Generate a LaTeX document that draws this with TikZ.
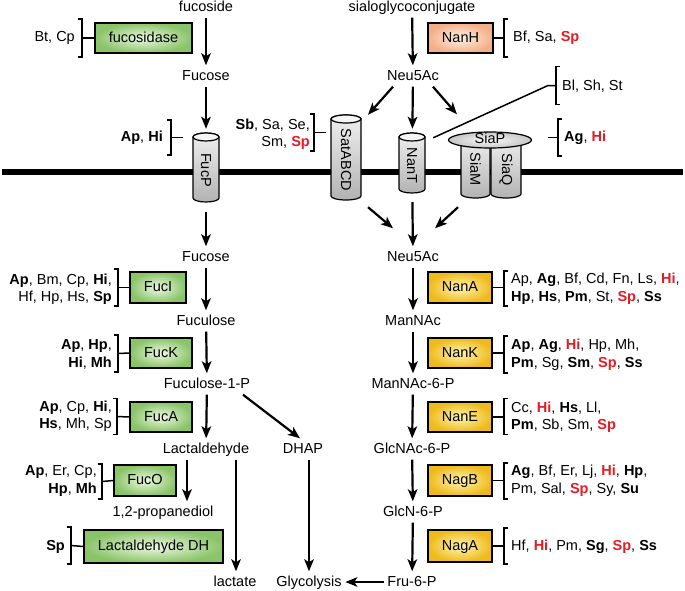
\documentclass[tikz,border=0pt]{standalone}
\usepackage{fontspec}
\setmainfont{Liberation Sans}
\usetikzlibrary{arrows.meta,shapes.geometric}
\definecolor{hired}{RGB}{228,28,36}
\definecolor{gin}{RGB}{238,248,228}
\definecolor{gout}{RGB}{138,196,104}
\definecolor{yin}{RGB}{255,246,180}
\definecolor{yout}{RGB}{238,186,28}
\definecolor{pin}{RGB}{255,242,232}
\definecolor{pout}{RGB}{243,176,136}
\newcommand\rd[1]{\textcolor{hired}{\textbf{#1}}}
\newcommand\lbrk[2]{\draw[brk] ([shift={(-4,-#2)}]#1) -- ++(4,0) -- ++(0,{2*#2}) -- ++(-4,0);}
\newcommand\rbrk[2]{\draw[brk] ([shift={(4,-#2)}]#1) -- ++(-4,0) -- ++(0,{2*#2}) -- ++(4,0);}
\newcommand\drawcyl[6]{%
  \node[inner sep=0pt, minimum width={2*#5}, minimum height={#4-#3}] (#1) at (#2,{(#3+#4)/2}) {};
  \shadedraw[cylbody] ({#2-#5},{#3+4}) -- ({#2-#5},{#4-4})
     arc[start angle=180,end angle=360,x radius=#5pt,y radius=4pt]
     -- ({#2+#5},{#3+4})
     arc[start angle=0,end angle=180,x radius=#5pt,y radius=4pt] -- cycle;
  \draw[cyltop] (#2,{#3+4}) ellipse[x radius=#5pt,y radius=4pt];
  \node[rotate=-90,inner sep=0pt] (#1txt) at (#2,{(#3+#4)/2+2.5}) {#6};
}
\begin{document}
\begin{tikzpicture}[x=1pt,y=-1pt,
  font=\fontsize{14.5}{17.5}\selectfont,
  met/.style={inner sep=3.5pt, text height=11pt, text depth=3pt},
  enz/.style={draw, line width=1.3pt, inner sep=0pt, text height=11pt, text depth=3pt, minimum height=30pt},
  gbox/.style={enz, inner color=gin, outer color=gout},
  ybox/.style={enz, inner color=yin, outer color=yout, minimum width=64pt},
  pbox/.style={enz, inner color=pin, outer color=pout},
  lab/.style={inner sep=0pt, align=right, anchor=east},
  rlab/.style={inner sep=0pt, align=left, anchor=west},
  brk/.style={line width=1.5pt},
  conn/.style={line width=1.5pt},
  arr/.style={line width=2.2pt, -{Stealth[length=12pt,width=9.5pt,inset=3pt]}},
  cylbody/.style={line width=1.2pt, top color=gray!12, bottom color=gray!60},
  cyltop/.style={line width=1.2pt, fill=gray!8}
]
\useasboundingbox (0,0) rectangle (685,590);

% membrane
\draw[line width=6pt] (2,172) -- (683,172);

% transporters
\drawcyl{fucp}{206}{133}{202}{13}{FucP}
\drawcyl{sat}{346}{115}{200}{15}{SatABCD}
\drawcyl{nant}{412}{133}{193}{13}{NanT}
\drawcyl{siam}{475.5}{136}{198}{14.5}{SiaM}
\drawcyl{siaq}{506}{136}{198}{15}{SiaQ}
\node[draw, ellipse, line width=1.2pt, inner sep=0pt, minimum width=83pt, minimum height=16pt,
      inner color=gray!4, outer color=gray!45, text height=8pt, text depth=1pt] (siap) at (490,140) {SiaP};

% metabolites left
\node[met] (fucoside) at (206,7) {fucoside};
\node[met] (fucose) at (206,76) {Fucose};
\node[met] (fucose2) at (206,257) {Fucose};
\node[met] (fuculose) at (206,321) {Fuculose};
\node[met] (f1p) at (207,384) {Fuculose-1-P};
\node[met] (lact) at (206,449) {Lactaldehyde};
\node[met] (prop) at (163,512) {1,2-propanediol};
\node[met] (lactate) at (235,582) {lactate};
\node[met] (dhap) at (303,449) {DHAP};
\node[met] (glyc) at (309,582) {Glycolysis};

% metabolites right
\node[met] (sialo) at (412,7) {sialoglycoconjugate};
\node[met] (neu) at (413,76) {Neu5Ac};
\node[met] (neu2) at (413,257) {Neu5Ac};
\node[met] (mannac) at (413,321) {ManNAc};
\node[met] (mannac6p) at (413,384) {ManNAc-6-P};
\node[met] (glcnac6p) at (412,449) {GlcNAc-6-P};
\node[met] (glcn6p) at (413,512) {GlcN-6-P};
\node[met] (fru) at (412,582) {Fru-6-P};

% enzymes
\node[gbox, minimum width=97pt] (fucosidase) at (143.5,38) {fucosidase};
\node[pbox, minimum width=65pt] (nanh) at (460.5,38) {NanH};
\node[gbox, minimum width=56pt, minimum height=31pt] (fuci) at (158,287.5) {FucI};
\node[gbox, minimum width=62pt] (fuck) at (161,353) {FucK};
\node[gbox, minimum width=62pt] (fuca) at (161,417) {FucA};
\node[gbox, minimum width=62pt, minimum height=31pt] (fuco) at (145,480.5) {FucO};
\node[gbox, minimum width=139pt, minimum height=33pt] (ldh) at (153.5,546.5) {Lactaldehyde DH};
\node[ybox, minimum height=31pt] (nana) at (460,287.5) {NanA};
\node[ybox] (nank) at (460,353) {NanK};
\node[ybox] (nane) at (460,417) {NanE};
\node[ybox, minimum height=31pt] (nagb) at (460,480.5) {NagB};
\node[ybox, minimum height=32pt] (naga) at (460,546) {NagA};

% arrows left
\draw[arr] (fucoside) -- (fucose);
\draw[arr, shorten >=4pt] (fucose) -- (fucp);
\draw[arr, shorten <=10pt] (fucp) -- (fucose2);
\draw[arr] (fucose2) -- (fuculose);
\draw[arr] (fuculose) -- (f1p);
\draw[arr] (f1p) -- (lact);
\draw[arr] ([xshift=36pt]f1p.south) -- ([xshift=-3pt]dhap.north);
\draw[arr] ([xshift=-19pt]lact.south) -- ([xshift=-19pt]lact.south |- prop.north);
\draw[arr] ([xshift=30pt]lact.south) -- ([xshift=30pt]lact.south |- lactate.north);
\draw[arr] (dhap.south -| glyc.north) -- (glyc.north);
\draw[arr] (fru) -- (glyc);

% arrows right
\draw[arr] (sialo) -- (neu);
\draw[arr] ([xshift=-20pt]neu.south) -- ([xshift=22pt]sat.north);
\draw[arr, shorten >=4pt] (neu) -- (nant);
\draw[arr] ([xshift=20pt]neu.south) -- ([xshift=-33pt,yshift=17pt]siap.north);
\draw[arr] ([xshift=22pt,yshift=-7pt]sat.south) -- ([xshift=-20pt,yshift=18pt]neu2.north);
\draw[arr, shorten <=9pt] (nant) -- (neu2);
\draw[arr] ([xshift=-17.5pt,yshift=-9pt]siam.south) -- ([xshift=22pt,yshift=18pt]neu2.north);
\draw[arr] (neu2) -- (mannac);
\draw[arr] (mannac) -- (mannac6p);
\draw[arr] (mannac6p) -- (glcnac6p);
\draw[arr] (glcnac6p) -- (glcn6p);
\draw[arr] (glcn6p) -- (fru);

% brackets and organism labels (left side)
\coordinate (bfuc) at (82,38);
\lbrk{bfuc}{19}
\draw[conn] (bfuc) -- (fucosidase.west);
\node[lab] (lfuc) at (75,38) {Bt, Cp};

\coordinate (bfucp) at (171,137.5);
\lbrk{bfucp}{17.5}
\draw[conn, shorten >=10pt] (bfucp) -- (fucp.west |- bfucp);
\node[lab] (lfucp) at (163,138) {\textbf{Ap}, \textbf{Hi}};

\coordinate (bsat) at (314,132.5);
\lbrk{bsat}{18.5}
\draw[conn, shorten >=5pt] (bsat) -- (sat.west |- bsat);
\node[lab] (lsat) at (310,134) {\textbf{Sb}, Sa, Se,\\Sm, \rd{Sp}};

\coordinate (bfuci) at (118,287.5);
\lbrk{bfuci}{18.5}
\draw[conn] (bfuci) -- (fuci.west);
\node[lab] (lfuci) at (112,289) {\textbf{Ap}, Bm, Cp, \textbf{Hi},\\Hf, Hp, Hs, \textbf{Sp}};

\coordinate (bfuck) at (118,353.5);
\lbrk{bfuck}{18.5}
\draw[conn] (bfuck) -- (fuck.west);
\node[lab] (lfuck) at (112,354.5) {\textbf{Ap}, \textbf{Hp},\\\textbf{Hi}, \textbf{Mh}};

\coordinate (bfuca) at (117,416.5);
\lbrk{bfuca}{18}
\draw[conn] (bfuca) -- (fuca.west);
\node[lab] (lfuca) at (112,416) {\textbf{Ap}, Cp, \textbf{Hi},\\\textbf{Hs}, Mh, Sp};

\coordinate (bfuco) at (102,481.5);
\lbrk{bfuco}{17.5}
\draw[conn] (bfuco) -- (fuco.west);
\node[lab] (lfuco) at (97,481) {\textbf{Ap}, Er, Cp,\\\textbf{Hp}, \textbf{Mh}};

\coordinate (bldh) at (71,545.5);
\lbrk{bldh}{18.5}
\draw[conn] (bldh) -- (ldh.west);
\node[lab] (lldh) at (65,547) {\textbf{Sp}};

% brackets and organism labels (right side)
\coordinate (bnanh) at (504,38);
\rbrk{bnanh}{19}
\draw[conn] (nanh.east) -- (bnanh);
\node[rlab] (lnanh) at (513,38) {Bf, Sa, \rd{Sp}};

\coordinate (bbl) at (556,85.5);
\rbrk{bbl}{19}
\draw[conn] ([xshift=8pt,yshift=-5pt]nant.north east) -- ([xshift=-8pt]bbl) -- (bbl);
\node[rlab] (lbl) at (562,86) {Bl, Sh, St};

\coordinate (bag) at (558,137.5);
\rbrk{bag}{18.5}
\draw[conn, shorten <=15.5pt] (siap.east |- bag) -- (bag);
\node[rlab] (lag) at (564,138) {\textbf{Ag}, \rd{Hi}};

\coordinate (bnana) at (504,288.5);
\rbrk{bnana}{17.5}
\draw[conn] (nana.east) -- (bnana |- nana.east);
\node[rlab] (lnana) at (511,288.5) {Ap, \textbf{Ag}, Bf, Cd, Fn, Ls, \rd{Hi},\\\textbf{Hp}, \textbf{Hs}, \textbf{Pm}, St, \rd{Sp}, \textbf{Ss}};

\coordinate (bnank) at (504,354.5);
\rbrk{bnank}{18.5}
\draw[conn] (nank.east) -- (bnank |- nank.east);
\node[rlab] (lnank) at (511,354.5) {\textbf{Ap}, \textbf{Ag}, \rd{Hi}, Hp, Mh,\\\textbf{Pm}, Sg, \textbf{Sm}, \rd{Sp}, \textbf{Ss}};

\coordinate (bnane) at (504,416.5);
\rbrk{bnane}{18}
\draw[conn] (nane.east) -- (bnane |- nane.east);
\node[rlab] (lnane) at (511,417) {Cc, \rd{Hi}, \textbf{Hs}, Ll,\\\textbf{Pm}, Sb, Sm, \rd{Sp}};

\coordinate (bnagb) at (504,481);
\rbrk{bnagb}{18}
\draw[conn] (nagb.east) -- (bnagb |- nagb.east);
\node[rlab] (lnagb) at (511,480.5) {\textbf{Ag}, Bf, Er, Lj, \rd{Hi}, \textbf{Hp},\\Pm, Sal, \rd{Sp}, Sy, \textbf{Su}};

\coordinate (bnaga) at (504,546);
\rbrk{bnaga}{18}
\draw[conn] (naga.east) -- (bnaga);
\node[rlab] (lnaga) at (511,547) {Hf, \rd{Hi}, Pm, \textbf{Sg}, \rd{Sp}, \textbf{Ss}};
\end{tikzpicture}
\end{document}
